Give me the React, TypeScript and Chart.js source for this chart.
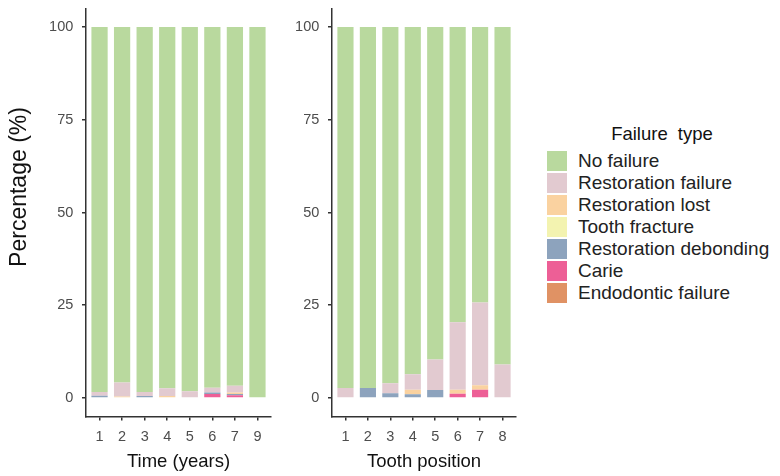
import React, { useEffect, useRef } from "react";
import { Chart, registerables } from "chart.js";

Chart.register(...registerables);

const FONT = '"Liberation Sans", Arial, Helvetica, sans-serif';
Chart.defaults.font.family = FONT;

// Legend order (top of stack first)
const failureTypes = [
  "No failure",
  "Restoration failure",
  "Restoration lost",
  "Tooth fracture",
  "Restoration debonding",
  "Carie",
  "Endodontic failure",
];
const failureColors = ["#B9D99E", "#E2CAD0", "#FAD2A0", "#F3F3B0", "#8DA3BD", "#ED5F96", "#E09264"];

// Left panel: time (years)
const timeLabels = ["1", "2", "3", "4", "5", "6", "7", "9"];
const timeNoFailure = [98.4, 95.8, 98.4, 97.4, 98.2, 97.25, 96.7, 100];
const timeRestorationFailure = [1.0, 3.8, 1.1, 2.1, 1.8, 1.25, 1.8, 0];
const timeRestorationLost = [0, 0.4, 0, 0.5, 0, 0, 0.45, 0];
const timeToothFracture = [0, 0, 0, 0, 0, 0, 0, 0];
const timeRestorationDebonding = [0.6, 0, 0.5, 0, 0, 0.45, 0.35, 0];
const timeCarie = [0, 0, 0, 0, 0, 1.05, 0.7, 0];
const timeEndodonticFailure = [0, 0, 0, 0, 0, 0, 0, 0];

// Right panel: tooth position
const toothLabels = ["1", "2", "3", "4", "5", "6", "7", "8"];
const toothNoFailure = [97.3, 97.3, 96.05, 93.6, 89.65, 79.6, 74.25, 91.0];
const toothRestorationFailure = [2.7, 0, 2.65, 4.2, 8.2, 18.2, 22.3, 9.0];
const toothRestorationLost = [0, 0, 0, 1.2, 0, 1.1, 1.25, 0];
const toothToothFracture = [0, 0, 0, 0, 0, 0, 0, 0];
const toothRestorationDebonding = [0, 2.7, 1.3, 1.0, 2.15, 0, 0, 0];
const toothCarie = [0, 0, 0, 0, 0, 1.1, 2.2, 0];
const toothEndodonticFailure = [0, 0, 0, 0, 0, 0, 0, 0];

const yTickValues = [0, 25, 50, 75, 100];
const yTitle = "Percentage (%)";
const legendTitle = "Failure type";

const AXIS = "#333333";
const TICK_TEXT = "#4d4d4d";
const TITLE_TEXT = "#111111";

type PanelOpts = {
  labels: string[];
  series: number[][];
  xTitle: string;
  yWidth: number;
  padRight: number;
  plugins?: any[];
};

function buildConfig(o: PanelOpts): any {
  const datasets = o.series
    .map((data, i) => ({
      label: failureTypes[i],
      data: data.map((v, j) => ({ x: j, y: v })),
      backgroundColor: failureColors[i],
      borderWidth: 0,
      barPercentage: 0.72,
      categoryPercentage: 1,
    }))
    .reverse();
  return {
    type: "bar",
    data: { datasets },
    options: {
      animation: false,
      responsive: false,
      events: [],
      layout: { padding: { left: 0, top: 8.5, right: o.padRight, bottom: 0 } },
      plugins: { legend: { display: false }, tooltip: { enabled: false } },
      scales: {
        x: {
          type: "linear",
          stacked: true,
          offset: false,
          min: -0.6,
          max: o.labels.length - 0.4,
          afterBuildTicks: (s: any) => {
            s.ticks = o.labels.map((_, i) => ({ value: i }));
          },
          afterFit: (s: any) => {
            s.height = 59.5;
            s.paddingLeft = 0;
            s.paddingRight = 0;
          },
          ticks: {
            callback: (v: any) => o.labels[v] ?? "",
            autoSkip: false,
            maxRotation: 0,
            padding: 7.6,
            color: TICK_TEXT,
            font: { size: 14.5 },
          },
          grid: {
            display: true,
            offset: false,
            drawOnChartArea: false,
            drawTicks: true,
            tickLength: 4,
            color: AXIS,
            lineWidth: 1.5,
          },
          border: { display: true, color: AXIS, width: 1.5 },
          title: {
            display: true,
            text: o.xTitle,
            color: TITLE_TEXT,
            font: { size: 18.5 },
            padding: { top: 0, bottom: 2.9 },
          },
        },
        y: {
          type: "linear",
          stacked: true,
          min: -5,
          max: 105,
          afterBuildTicks: (s: any) => {
            s.ticks = yTickValues.map((v) => ({ value: v }));
          },
          afterFit: (s: any) => {
            s.width = o.yWidth;
            s.paddingTop = 0;
            s.paddingBottom = 0;
          },
          ticks: { padding: 8.7, color: TICK_TEXT, font: { size: 14.5 } },
          grid: { display: true, drawOnChartArea: false, drawTicks: true, tickLength: 4, color: AXIS, lineWidth: 1.5 },
          border: { display: true, color: AXIS, width: 1.5 },
        },
      },
    },
    plugins: o.plugins ?? [],
  };
}

const yTitlePlugin = {
  id: "yTitleLeft",
  afterDraw(chart: any) {
    const ctx = chart.ctx;
    ctx.save();
    ctx.translate(19.3, 187);
    ctx.rotate(-Math.PI / 2);
    ctx.font = `23px ${FONT}`;
    ctx.fillStyle = TITLE_TEXT;
    ctx.textAlign = "center";
    ctx.textBaseline = "middle";
    ctx.fillText(yTitle, 0, 0);
    ctx.restore();
  },
};

function Panel(props: { opts: PanelOpts; left: number; width: number }) {
  const ref = useRef<HTMLCanvasElement | null>(null);
  useEffect(() => {
    if (!ref.current) return;
    const chart = new Chart(ref.current, buildConfig(props.opts));
    return () => chart.destroy();
  }, []);
  return (
    <canvas
      ref={ref}
      width={props.width}
      height={476}
      style={{ position: "absolute", left: props.left, top: 0, width: props.width, height: 476 }}
    />
  );
}

function Legend() {
  return (
    <div style={{ position: "absolute", left: 547, top: 121.6, width: 230, fontFamily: FONT }}>
      <div
        style={{
          textAlign: "center",
          fontSize: 18.5,
          lineHeight: "24px",
          wordSpacing: 5,
          color: TITLE_TEXT,
          whiteSpace: "nowrap",
        }}
      >
        {legendTitle}
      </div>
      <div style={{ position: "absolute", left: 0, top: 150.2 - 121.6 }}>
        {failureTypes.map((name, i) => (
          <div key={name} style={{ display: "flex", alignItems: "center", height: 22, whiteSpace: "nowrap" }}>
            <div style={{ width: 20, height: 20, background: failureColors[i], flex: "none" }} />
            <div style={{ marginLeft: 11, fontSize: 19, lineHeight: "22px", color: "#222" }}>{name}</div>
          </div>
        ))}
      </div>
    </div>
  );
}

export default function App() {
  const left: PanelOpts = {
    labels: timeLabels,
    series: [
      timeNoFailure,
      timeRestorationFailure,
      timeRestorationLost,
      timeToothFracture,
      timeRestorationDebonding,
      timeCarie,
      timeEndodonticFailure,
    ],
    xTitle: "Time (years)",
    yWidth: 86,
    padRight: 9,
    plugins: [yTitlePlugin],
  };
  const right: PanelOpts = {
    labels: toothLabels,
    series: [
      toothNoFailure,
      toothRestorationFailure,
      toothRestorationLost,
      toothToothFracture,
      toothRestorationDebonding,
      toothCarie,
      toothEndodonticFailure,
    ],
    xTitle: "Tooth position",
    yWidth: 52,
    padRight: 14,
  };
  return (
    <div style={{ position: "fixed", left: 0, top: 0, width: 780, height: 476, background: "#fff", overflow: "hidden" }}>
      <Panel opts={left} left={0} width={280} />
      <Panel opts={right} left={280} width={250} />
      <Legend />
    </div>
  );
}
